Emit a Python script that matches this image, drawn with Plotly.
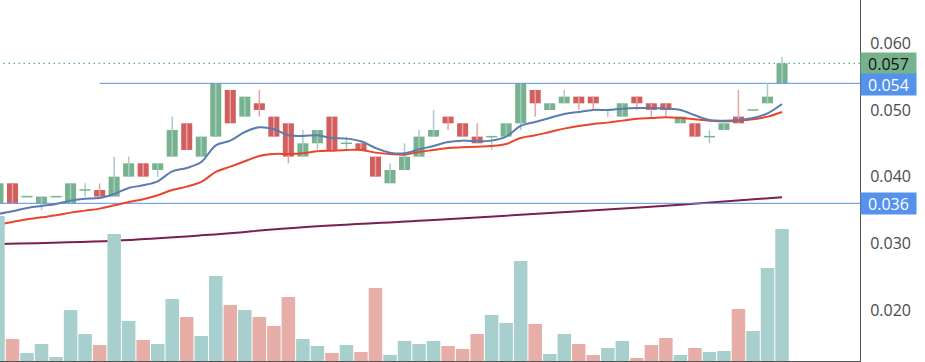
import plotly.graph_objects as go

# ---- data (candle index 0..54) ----
opens  = [0.036,0.039,0.037,0.036,0.037,0.036,0.038,0.038,0.037,0.040,0.042,0.041,0.043,0.048,0.043,0.046,
          0.053,0.049,0.051,0.049,0.048,0.043,0.045,0.049,0.045,0.045,0.043,0.039,0.041,0.043,0.046,0.049,
          0.048,0.046,0.046,0.046,0.048,0.053,0.050,0.051,0.052,0.052,0.050,0.049,0.052,0.051,0.051,0.048,
          0.048,0.046,0.047,0.049,0.050,0.051,0.054]
highs  = [0.039,0.039,0.037,0.037,0.037,0.039,0.039,0.039,0.043,0.043,0.042,0.042,0.049,0.048,0.046,0.054,
          0.053,0.052,0.053,0.049,0.048,0.047,0.047,0.049,0.046,0.045,0.043,0.042,0.045,0.047,0.050,0.049,
          0.048,0.048,0.046,0.048,0.054,0.053,0.051,0.053,0.052,0.052,0.050,0.051,0.052,0.051,0.051,0.049,
          0.048,0.047,0.048,0.053,0.050,0.054,0.058]
lows   = [0.036,0.036,0.037,0.035,0.037,0.036,0.037,0.037,0.037,0.040,0.040,0.040,0.043,0.044,0.043,0.046,
          0.048,0.049,0.049,0.046,0.042,0.043,0.044,0.044,0.044,0.044,0.040,0.039,0.041,0.043,0.046,0.047,
          0.046,0.045,0.044,0.046,0.047,0.049,0.050,0.051,0.050,0.050,0.049,0.049,0.050,0.049,0.049,0.048,
          0.046,0.045,0.047,0.048,0.050,0.051,0.054]
closes = [0.039,0.036,0.037,0.037,0.037,0.039,0.038,0.037,0.040,0.042,0.040,0.042,0.047,0.044,0.046,0.054,
          0.048,0.052,0.050,0.046,0.043,0.045,0.047,0.044,0.045,0.044,0.040,0.041,0.043,0.046,0.047,0.048,
          0.046,0.045,0.046,0.048,0.054,0.051,0.051,0.052,0.051,0.051,0.050,0.051,0.051,0.050,0.050,0.049,
          0.046,0.046,0.048,0.048,0.050,0.052,0.057]
volumes = [1450,220,80,170,40,510,270,160,1270,400,210,170,620,440,250,850,
           560,510,440,350,640,220,150,80,160,90,730,60,200,170,200,150,
           120,270,460,380,1000,370,70,270,170,60,130,200,30,160,230,60,
           130,90,100,520,300,930,1320]
ma_fast = [0.0344,0.0348,0.0353,0.0356,0.0359,0.0364,0.0367,0.0368,0.0374,0.0383,0.0387,0.0393,0.0408,0.0413,0.0422,0.0447,
           0.0454,0.0467,0.0474,0.0471,0.0462,0.0461,0.0462,0.0458,0.0457,0.0453,0.0443,0.0436,0.0435,0.0441,0.0446,0.0452,
           0.0454,0.0453,0.0454,0.0460,0.0476,0.0482,0.0488,0.0494,0.0497,0.0500,0.0500,0.0502,0.0503,0.0503,0.0502,0.0500,
           0.0492,0.0485,0.0484,0.0485,0.0488,0.0495,0.0509]
ma_slow = [0.0328,0.0332,0.0336,0.0339,0.0342,0.0346,0.0349,0.0352,0.0357,0.0362,0.0366,0.0372,0.0380,0.0385,0.0392,0.0407,
           0.0415,0.0423,0.0431,0.0434,0.0434,0.0435,0.0438,0.0439,0.0440,0.0440,0.0436,0.0434,0.0433,0.0437,0.0440,0.0443,
           0.0444,0.0445,0.0446,0.0449,0.0458,0.0462,0.0467,0.0472,0.0476,0.0479,0.0481,0.0484,0.0487,0.0488,0.0489,0.0488,
           0.0486,0.0484,0.0483,0.0484,0.0486,0.0490,0.0497]
ma_long_idx = [0, 8, 14, 21, 30, 40, 47, 54]
ma_long = [0.0299, 0.0304, 0.0312, 0.0324, 0.0335, 0.0348, 0.0358, 0.0369]
level_lines = [0.054, 0.036]
level_start = [7, -1]
last_price = 0.057

GREEN = "#76b38c"; RED = "#d25e5e"
GREEN_WICK = "#a9c9cc"; RED_WICK = "#e6a3a3"
VOL_UP = "#a7cfcd"; VOL_DN = "#e7aea8"
LEVEL = "#5a8fe3"

n = len(opens)
idx = list(range(n))
up = [c >= o for o, c in zip(opens, closes)]

fig = go.Figure()

# volume
fig.add_trace(go.Bar(x=idx, y=volumes, yaxis="y2", width=0.93,
                     marker=dict(color=[VOL_UP if u else VOL_DN for u in up], line=dict(width=0)),
                     hoverinfo="skip", showlegend=False))

# long MA
fig.add_trace(go.Scatter(x=ma_long_idx, y=ma_long, mode="lines", line=dict(color="#7a2050", width=2, shape="spline"),
                         showlegend=False, hoverinfo="skip"))

# level lines
for lv, st in zip(level_lines, level_start):
    fig.add_trace(go.Scatter(x=[st, 61], y=[lv, lv], mode="lines", line=dict(color=LEVEL, width=1),
                             showlegend=False, hoverinfo="skip"))
fig.add_trace(go.Scatter(x=[-1, 61], y=[last_price] * 2, mode="lines", line=dict(color="#5fae7c", width=1.3, dash="1.5px,3.5px"),
                         showlegend=False, hoverinfo="skip"))

# wicks
for col, flag in ((GREEN_WICK, True), (RED_WICK, False)):
    xs, ys = [], []
    for i in idx:
        if up[i] == flag and highs[i] > lows[i]:
            xs += [i, i, None]; ys += [lows[i], highs[i], None]
    fig.add_trace(go.Scatter(x=xs, y=ys, mode="lines", line=dict(color=col, width=1.5),
                             showlegend=False, hoverinfo="skip"))

# bodies
for col, flag in ((GREEN, True), (RED, False)):
    xs = [i for i in idx if up[i] == flag and closes[i] != opens[i]]
    fig.add_trace(go.Bar(x=xs, y=[abs(closes[i] - opens[i]) for i in xs],
                         base=[min(opens[i], closes[i]) for i in xs], width=0.76,
                         marker=dict(color=col, line=dict(width=0)), showlegend=False, hoverinfo="skip"))
# doji bodies
dx, dy = [], []
for i in idx:
    if closes[i] == opens[i]:
        dx += [i - 0.38, i + 0.38, None]; dy += [opens[i], opens[i], None]
fig.add_trace(go.Scatter(x=dx, y=dy, mode="lines", line=dict(color=GREEN, width=1.5),
                         showlegend=False, hoverinfo="skip"))

# moving averages
fig.add_trace(go.Scatter(x=idx, y=ma_slow, mode="lines", line=dict(color="#e8462c", width=2, shape="spline"),
                         showlegend=False, hoverinfo="skip"))
fig.add_trace(go.Scatter(x=idx, y=ma_fast, mode="lines", line=dict(color="#5a7cae", width=2, shape="spline"),
                         showlegend=False, hoverinfo="skip"))

ann = []
for val, bg, fc, ys in ((last_price, GREEN, "#111111", 0), (level_lines[0], "#5592ec", "white", -1.5),
                        (level_lines[1], "#5592ec", "white", 0)):
    ann.append(dict(x=1, xref="paper", xanchor="left", y=val, yref="y", yanchor="middle", yshift=ys,
                    text=f"{val:.3f}", showarrow=False, bgcolor=bg, width=55, height=21, borderpad=0,
                    font=dict(family="Open Sans, sans-serif", size=16, color=fc), align="center"))

fig.update_layout(
    width=925, height=362, margin=dict(l=0, r=65, t=0, b=1),
    paper_bgcolor="white", plot_bgcolor="white", barmode="overlay", showlegend=False,
    xaxis=dict(range=[0.139, 59.37], showticklabels=False, showgrid=False, zeroline=False,
               showline=True, linecolor="#555555", linewidth=1, fixedrange=True),
    yaxis=dict(range=[0.012345, 0.066495], side="right", dtick=0.01, tick0=0, tickformat=".3f",
               showgrid=False, zeroline=False, showline=True, linecolor="#555555", linewidth=1,
               ticks="", ticklabelstandoff=6,
               tickfont=dict(family="Open Sans, sans-serif", size=16, color="#4a4a4a")),
    yaxis2=dict(range=[0, 3610], overlaying="y", visible=False),
    annotations=ann,
)

fig.write_html("out.html", config={"displayModeBar": False},
               post_script="document.body.style.margin='0';document.body.style.overflow='hidden';")
